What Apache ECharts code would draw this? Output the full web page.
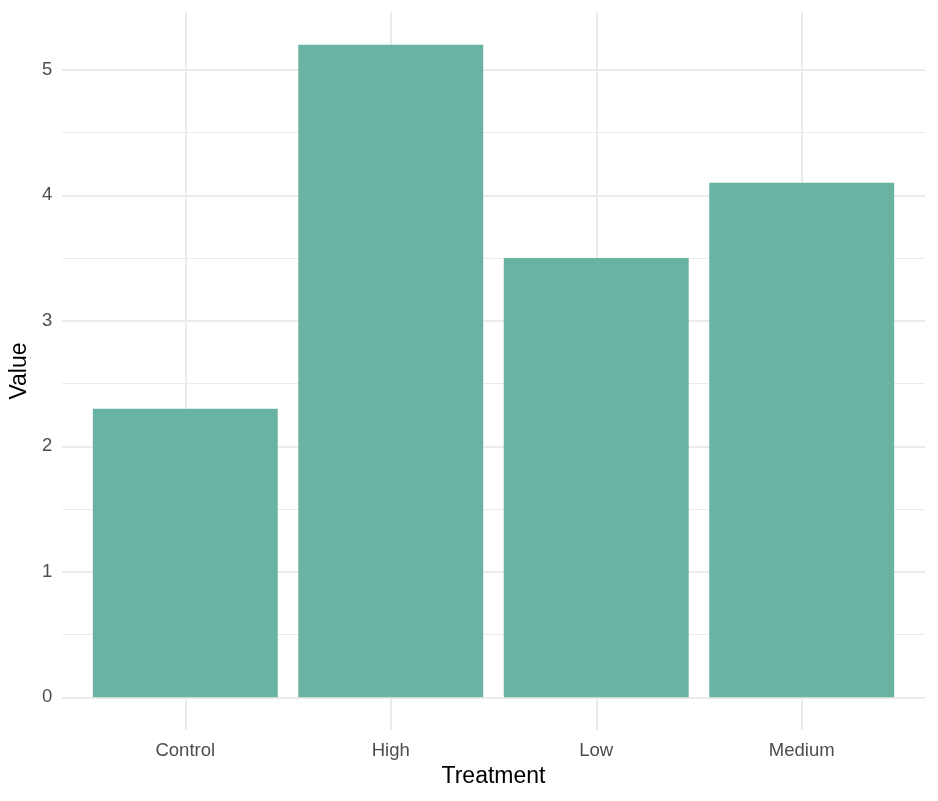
<!DOCTYPE html>
<html>
<head>
<meta charset="utf-8">
<script src="https://cdn.jsdelivr.net/npm/echarts@6/dist/echarts.min.js"></script>
<style>html,body{margin:0;padding:0;background:#fff;}#chart{width:938px;height:801px;}</style>
</head>
<body>
<div id="chart"></div>
<script>
const categories = ['Control', 'High', 'Low', 'Medium'];
const values = [2.3, 5.2, 3.5, 4.1];
const majorTicks = [0, 1, 2, 3, 4, 5];
const minorTicks = [0.5, 1.5, 2.5, 3.5, 4.5];
const yMin = -0.26, yMax = 5.46;
const xMin = 0.4, xMax = 4.6; // ggplot discrete expansion (0.6 each side)

const font = 'Liberation Sans, Arial, sans-serif';
const gridColor = '#EBEBEB';

// panel geometry
const pL = 62, pR = 925, pT = 12, pB = 730, W = 938, H = 801;
const unit = (pR - pL) / (xMax - xMin);
const barL = pL + (1 - 0.5 - xMin) * unit;
const barR = pR - (xMax - (categories.length + 0.5)) * unit;

const chart = echarts.init(document.getElementById('chart'), null, {renderer: 'canvas'});
const option = {
  animation: false,
  backgroundColor: '#ffffff',
  grid: [
    {left: pL, right: W - pR, top: pT, bottom: H - pB, containLabel: false},
    {left: barL, right: W - barR, top: pT, bottom: H - pB, containLabel: false}
  ],
  xAxis: [
    {
      type: 'value', gridIndex: 0, min: xMin, max: xMax,
      show: false, splitLine: {show: false}
    },
    {
      type: 'category', gridIndex: 1,
      data: categories,
      name: 'Treatment',
      nameLocation: 'middle',
      nameGap: 33,
      nameTextStyle: {color: '#000000', fontSize: 23, fontFamily: font},
      axisLine: {show: false},
      axisTick: {show: false},
      splitLine: {show: false},
      axisLabel: {color: '#4D4D4D', fontSize: 18.5, fontFamily: font, margin: 11}
    }
  ],
  yAxis: [
    {
      type: 'value', gridIndex: 0,
      min: yMin, max: yMax,
      name: 'Value',
      nameLocation: 'middle',
      nameGap: 25,
      nameRotate: 90,
      nameTextStyle: {color: '#000000', fontSize: 23, fontFamily: font},
      axisLine: {show: false},
      axisTick: {show: false},
      splitLine: {show: false},
      axisLabel: {
        color: '#4D4D4D', fontSize: 18.5, fontFamily: font, margin: 10,
        customValues: majorTicks,
        formatter: v => String(v)
      }
    },
    {
      type: 'value', gridIndex: 1, min: yMin, max: yMax,
      show: false, splitLine: {show: false}
    }
  ],
  series: [
    {
      type: 'line',
      xAxisIndex: 0, yAxisIndex: 0,
      data: [],
      silent: true,
      z: 1,
      markLine: {
        silent: true,
        z: 1,
        symbol: ['none', 'none'],
        label: {show: false},
        animation: false,
        emphasis: {disabled: true},
        data: [
          ...minorTicks.map(v => ({yAxis: v, lineStyle: {color: gridColor, width: 1, type: 'solid'}})),
          ...majorTicks.map(v => ({yAxis: v, lineStyle: {color: gridColor, width: 2, type: 'solid'}})),
          ...categories.map((c, i) => ({xAxis: i + 1, lineStyle: {color: gridColor, width: 2, type: 'solid'}}))
        ]
      }
    },
    {
      type: 'bar',
      xAxisIndex: 1, yAxisIndex: 1,
      data: values,
      z: 2,
      barCategoryGap: '10%',
      itemStyle: {color: '#69B3A2'},
      silent: true
    }
  ]
};
chart.setOption(option);
</script>
</body>
</html>
